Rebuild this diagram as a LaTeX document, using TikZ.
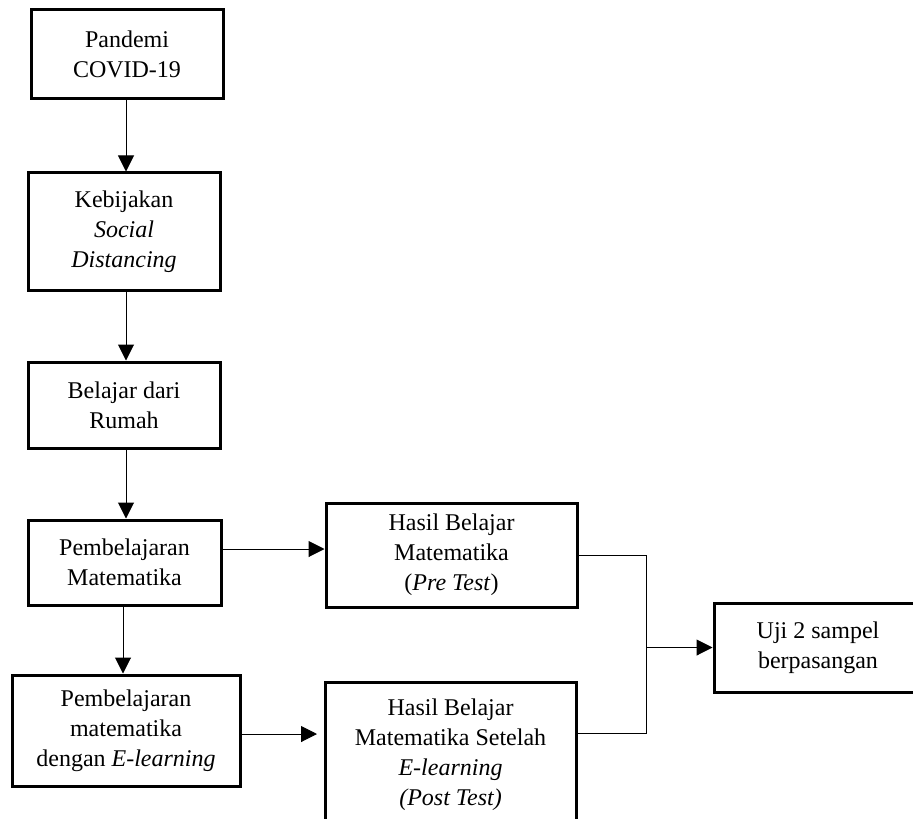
\documentclass[tikz,border=0pt]{standalone}
\usepackage{fontspec}
\setmainfont{Liberation Serif}
\usetikzlibrary{arrows.meta}
\begin{document}
\begin{tikzpicture}[x=0.5pt,y=-0.5pt,
  box/.style={draw=black,line width=1.5pt,align=center,inner sep=0pt,
    font=\fontsize{12}{15}\selectfont},
  arr/.style={line width=0.5pt,-{Triangle[width=8pt,length=8pt]}},
  ln/.style={line width=0.5pt}]
\useasboundingbox (0,0) rectangle (913,818);
\clip (0,0) rectangle (913,818);
\node[box,minimum width=96pt,minimum height=44.5pt] (b1) at (127,54.5) {Pandemi\\COVID-19};
\node[box,minimum width=96pt,minimum height=58.5pt] (b2) at (124,231.5) {Kebijakan\\\textit{Social}\\\textit{Distancing}};
\node[box,minimum width=96pt,minimum height=43pt] (b3) at (124,405) {Belajar dari\\Rumah};
\node[box,minimum width=96.5pt,minimum height=42.5pt] (b4) at (124.5,562.5) {Pembelajaran\\Matematika};
\node[box,minimum width=125.5pt,minimum height=52pt] (b5) at (451.5,555) {Hasil Belajar\\Matematika\\(\textit{Pre Test})};
\node[box,minimum width=114pt,minimum height=55.5pt] (b6) at (126,730.5) {Pembelajaran\\matematika\\dengan \textit{E-learning}};
\node[box,minimum width=125.5pt,minimum height=73pt] (b7) at (450.5,755) {Hasil Belajar\\Matematika Setelah\\\textit{E-learning}\\\textit{(Post Test)}};
\node[box,minimum width=104pt,minimum height=44.5pt] (b8) at (818,647.5) {Uji 2 sampel\\berpasangan};
\coordinate (j) at (646,647.5);
\coordinate (s4) at (221,549);
\coordinate (s7) at (576,733);
\coordinate (t7) at (317,734);
\draw[arr] ([xshift=-0.5pt]b1.south) -- ([xshift=-0.5pt]b1.south |- b2.north);
\draw[arr] ([xshift=1pt]b2.south) -- ([xshift=1pt]b2.south |- b3.north);
\draw[arr] ([xshift=1pt]b3.south) -- ([xshift=1pt]b3.south |- b4.north);
\draw[arr] ([xshift=-0.75pt]b4.south) -- ([xshift=-0.75pt]b4.south |- b6.north);
\draw[arr] (s4) -- (s4 -| b5.west);
\draw[arr] (b6.east |- t7) -- (t7);
\draw[ln] (b5.east) -| (j);
\draw[ln] (s7) -| (j);
\draw[arr] (j) -- (b8.west);
\end{tikzpicture}
\end{document}
